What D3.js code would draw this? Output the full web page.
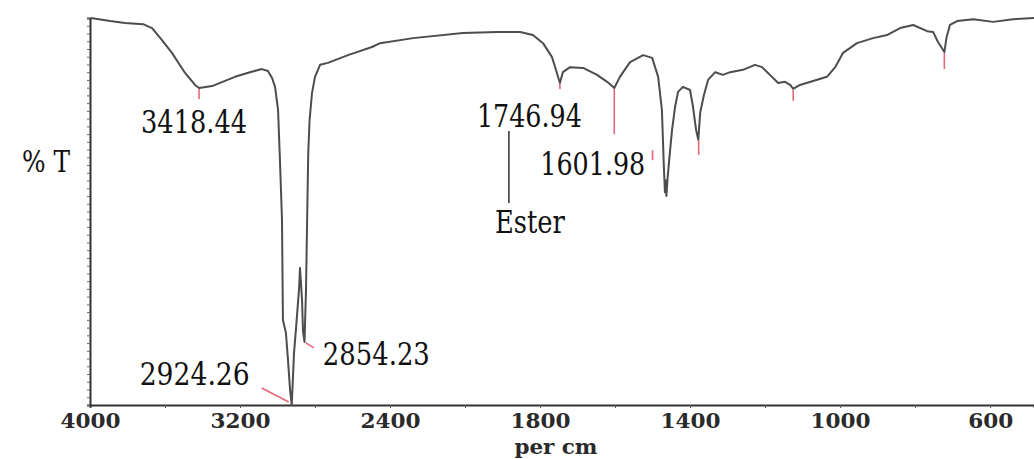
<!DOCTYPE html>
<html>
<head>
<meta charset="utf-8">
<script src="https://cdn.jsdelivr.net/npm/d3@7"></script>
<style>
  body { margin: 0; background: #fff; }
  svg { display: block; }
</style>
</head>
<body>
<div id="chart"></div>
<script>
// wavenumber (per cm) and transmittance
var wavenumber = [3995, 3893, 3813, 3717, 3669, 3616, 3563, 3493, 3440, 3418, 3349, 3227, 3147, 3083, 3051, 3029, 3013, 2997,
  2987, 2976, 2971, 2955, 2944, 2933, 2924, 2912, 2901, 2885, 2880, 2869, 2864, 2856, 2848, 2842, 2836, 2829, 2816, 2800,
  2773, 2731, 2693, 2624, 2496, 2453, 2277, 2011, 1915, 1853, 1819, 1792, 1768, 1755, 1747, 1739, 1720, 1685, 1648, 1621,
  1602, 1587, 1560, 1525, 1501, 1485, 1475, 1470, 1467, 1465, 1463, 1460, 1453, 1448, 1440, 1432, 1419, 1400, 1392, 1384, 1378, 1373,
  1363, 1352, 1333, 1312, 1293, 1259, 1227, 1208, 1187, 1165, 1147, 1133, 1125, 1107, 1072, 1035, 1013, 992, 955, 912,
  875, 840, 805, 768, 752, 739, 722, 716, 707, 688, 645, 592, 539, 483];
var transmittance = [100, 99.2, 98.7, 98.4, 97.4, 94.3, 91.0, 85.8, 82.7, 81.9, 82.4, 84.8, 86.0, 86.8, 86.3, 84.5, 82.2, 76.2,
  63.3, 47.8, 22.0, 18.6, 11.6, 3.9, 0, 13.4, 20.0, 30.0, 35.4, 27.0, 19.0, 16.3, 29.7, 47.8, 65.1, 73.6, 80.6, 84.8,
  87.9, 88.4, 89.1, 90.4, 92.5, 93.5, 94.8, 96.1, 96.4, 96.4, 95.6, 93.5, 89.9, 85.8, 83.2, 86.0, 87.3, 87.1, 85.3, 83.5,
  81.9, 84.8, 88.6, 90.4, 89.7, 84.8, 76.2, 62.0, 55.0, 58.0, 54.0, 58.5, 66.0, 71.1, 77.0, 80.9, 82.2, 81.4, 77.0, 71.1, 68.5, 75.5,
  80.1, 84.0, 86.0, 85.3, 86.0, 86.6, 87.9, 87.3, 85.3, 83.2, 83.5, 82.7, 81.7, 82.7, 83.7, 84.8, 87.3, 91.0, 93.5, 94.8,
  95.6, 97.4, 98.2, 96.6, 96.4, 93.8, 91.2, 95.1, 98.2, 99.2, 99.7, 99.0, 99.7, 100];

// picked peaks (red marks) and their labels
var markWn = [3418.44, 1746.94, 1601.98, 1500, 1377, 1125, 722];
var markT = [81.9, 83.2, 81.9, 66.1, 68.5, 81.7, 91.2];
var labelText = ["3418.44", "2924.26", "2854.23", "1746.94", "1601.98", "Ester"];
var labelWn = [3418.44, 2924.26, 2854.23, 1746.94, 1601.98, 1746.94];

var tickLabels = [4000, 3200, 2400, 1800, 1400, 1000, 600];
var tickMinor = [3600, 2800, 2000, 1600, 1200, 800];

var W = 1034, H = 459;
var FONT = "DejaVu Serif";
var svg = d3.select("#chart").append("svg").attr("width", W).attr("height", H);

// split scale: 4000-2000 at half the scale of 2000-483
var x = d3.scaleLinear().domain([4000, 2000, 483]).range([90, 465, 1034]);
var y = d3.scaleLinear().domain([0, 100]).range([405, 18]);

var data = wavenumber.map(function(w, i) { return { w: w, t: transmittance[i] }; });

// axes
var axisB = d3.axisBottom(x)
  .tickValues(tickLabels.concat(tickMinor))
  .tickSize(3)
  .tickFormat(function(d) { return tickLabels.indexOf(d) >= 0 ? d : ""; });
var gB = svg.append("g").attr("transform", "translate(0,405)").call(axisB);
gB.select(".domain").attr("stroke", "#333").attr("stroke-width", 2);
gB.selectAll(".tick line").attr("stroke", "#555");
gB.selectAll(".tick text")
  .attr("y", 23).attr("dy", null)
  .attr("font-family", FONT).attr("font-weight", "bold").attr("font-size", 20)
  .attr("fill", "#2a2a2a")
  .attr("textLength", function(d) { return String(d).length * 15; })
  .attr("lengthAdjust", "spacingAndGlyphs");

var axisL = d3.axisLeft(y).tickValues(d3.range(0, 101, 2)).tickSize(3).tickFormat("");
var gL = svg.append("g").attr("transform", "translate(90,0)").call(axisL);
gL.select(".domain").attr("stroke", "#333").attr("stroke-width", 2);
gL.selectAll(".tick line").attr("stroke", "#666");

// spectrum
var line = d3.line().x(function(d) { return x(d.w); }).y(function(d) { return y(d.t); });
svg.append("path").datum(data)
  .attr("d", line)
  .attr("fill", "none")
  .attr("stroke", "#4d4d4d")
  .attr("stroke-width", 2)
  .attr("stroke-linejoin", "round");

// red peak marks
var markLen = [10, 5, 45, 10, 14, 11, 16];
svg.selectAll(".mark").data(markWn).enter().append("line")
  .attr("x1", function(d) { return x(d); })
  .attr("x2", function(d) { return x(d); })
  .attr("y1", function(d, i) { return y(markT[i]) + 1; })
  .attr("y2", function(d, i) { return y(markT[i]) + 1 + markLen[i]; })
  .attr("stroke", "#e5677a").attr("stroke-width", 1.6);
// slanted marks for the C-H pair
svg.append("line")
  .attr("x1", x(2924.26) - 30).attr("y1", y(0) - 17)
  .attr("x2", x(2924.26) - 3).attr("y2", y(0) - 3)
  .attr("stroke", "#e5677a").attr("stroke-width", 1.6);
svg.append("line")
  .attr("x1", x(2854.23) + 1).attr("y1", y(16.3) + 1)
  .attr("x2", x(2854.23) + 9).attr("y2", y(16.3) + 6)
  .attr("stroke", "#e5677a").attr("stroke-width", 1.6);

// labels (left edge placed relative to the peak)
var labDx = [-58, -152, 18, -83, -74, -65];
var labY = [133, 385, 365, 127, 175, 233];
var labW = [106, 110, 107, 105, 105, 70];
svg.selectAll(".lab").data(labelText).enter().append("text")
  .attr("font-family", FONT)
  .attr("x", function(d, i) { return x(labelWn[i]) + labDx[i]; })
  .attr("y", function(d, i) { return labY[i]; })
  .attr("font-size", 31)
  .attr("fill", "#111")
  .attr("textLength", function(d, i) { return labW[i]; })
  .attr("lengthAdjust", "spacingAndGlyphs")
  .text(function(d) { return d; });

// Ester leader line
svg.append("line")
  .attr("x1", x(1746.94) - 51).attr("x2", x(1746.94) - 51)
  .attr("y1", 131).attr("y2", 203)
  .attr("stroke", "#111").attr("stroke-width", 1.3);

// axis titles
svg.append("text").attr("font-family", FONT).attr("x", 22).attr("y", 172)
  .attr("font-size", 29).attr("fill", "#111")
  .attr("textLength", 48).attr("lengthAdjust", "spacingAndGlyphs")
  .text("% T");
svg.append("text").attr("font-family", FONT).attr("x", 556).attr("y", 454).attr("text-anchor", "middle")
  .attr("font-weight", "bold").attr("font-size", 20)
  .attr("fill", "#2a2a2a")
  .attr("textLength", 83).attr("lengthAdjust", "spacingAndGlyphs")
  .text("per cm");
</script>
</body>
</html>
